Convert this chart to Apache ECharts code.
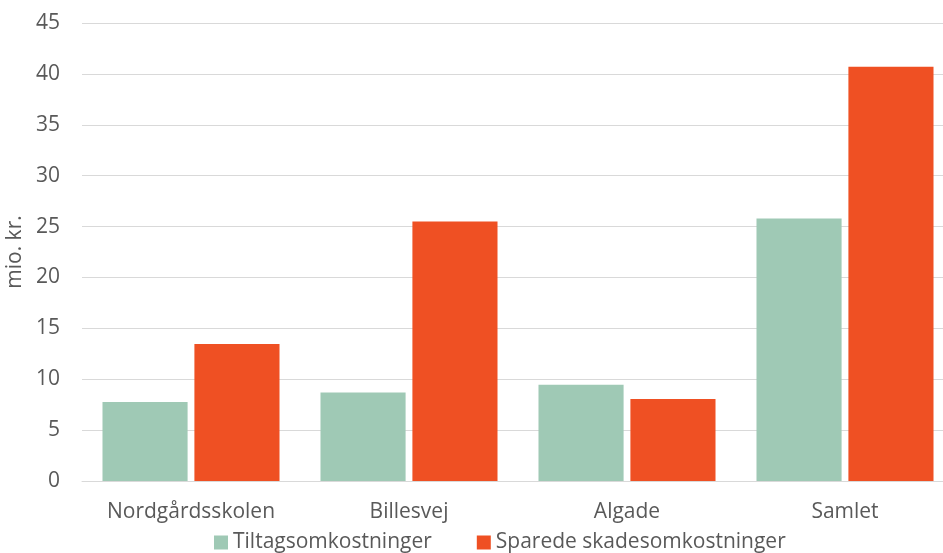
<!DOCTYPE html>
<html>
<head>
<meta charset="utf-8">
<script src="https://cdn.jsdelivr.net/npm/echarts@6/dist/echarts.min.js"></script>
<style>
  html, body { margin: 0; padding: 0; background: #fff; overflow: hidden; }
  /* wider than the window: the plot area runs past the right edge like in the original */
  #chart { width: 960px; height: 553px; }
</style>
</head>
<body>
<div id="chart"></div>
<script>
// data
var categories = ["Nordgårdsskolen", "Billesvej", "Algade", "Samlet"];
var tiltag = [7.75, 8.7, 9.45, 25.8];
var sparede = [13.45, 25.5, 8.05, 40.7];
var seriesNames = ["Tiltagsomkostninger", "Sparede skadesomkostninger"];

var textColor = "#595959";
var fontFam = "'Open Sans', 'Noto Sans', sans-serif";

var myChart = echarts.init(document.getElementById("chart"));
myChart.setOption({
  animation: false,
  textStyle: { fontFamily: fontFam },
  grid: { left: 82, right: 6, top: 23, bottom: 72, outerBoundsMode: "none" },
  legend: {
    bottom: 0,
    left: 214,
    padding: 0,
    itemWidth: 14,
    itemHeight: 14,
    itemGap: 45,
    icon: "rect",
    textStyle: { color: textColor, fontSize: 21, fontFamily: fontFam },
    data: seriesNames
  },
  xAxis: {
    type: "category",
    data: categories,
    axisLine: { lineStyle: { color: "#d9d9d9", width: 1 } },
    axisTick: { show: false },
    axisLabel: { color: textColor, fontSize: 21, margin: 21, interval: 0, fontFamily: fontFam }
  },
  yAxis: {
    type: "value",
    min: 0,
    max: 45,
    interval: 5,
    name: "mio. kr.",
    nameLocation: "middle",
    nameGap: 54,
    nameTextStyle: { color: textColor, fontSize: 21, fontFamily: fontFam },
    axisLine: { show: false },
    axisTick: { show: false },
    axisLabel: { color: textColor, fontSize: 21, margin: 22, fontFamily: fontFam },
    splitLine: { lineStyle: { color: "#d9d9d9", width: 1 } }
  },
  series: [
    {
      name: seriesNames[0],
      type: "bar",
      data: tiltag,
      barGap: "8%",
      barCategoryGap: "18.8%",
      itemStyle: { color: "#9fc9b5" }
    },
    {
      name: seriesNames[1],
      type: "bar",
      data: sparede,
      itemStyle: { color: "#ef5023" }
    }
  ]
});

window.addEventListener("resize", function () {
  myChart.resize();
});
</script>
</body>
</html>
